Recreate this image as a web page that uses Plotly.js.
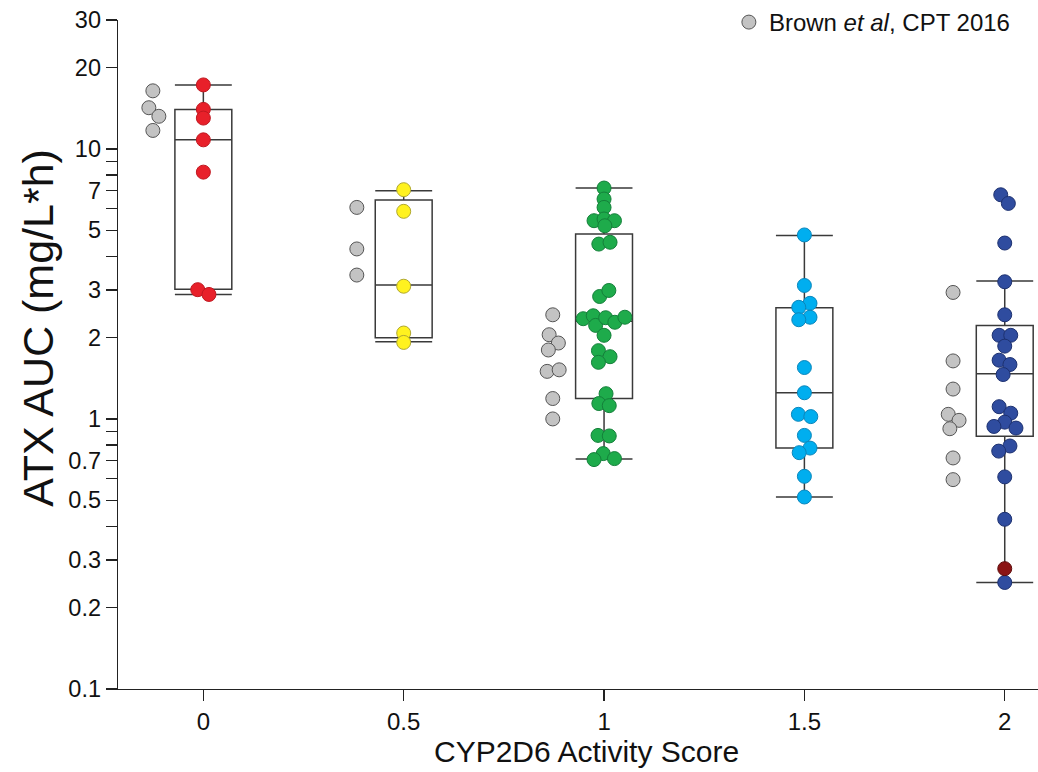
<!DOCTYPE html>
<html>
<head>
<meta charset="utf-8">
<script src="https://cdn.plot.ly/plotly-3.0.1.min.js"></script>
<style>html,body{margin:0;padding:0;background:#fff;}#chart{width:1038px;height:772px;}</style>
</head>
<body>
<div id="chart"></div>
<script>
// ---- Data ----
const scores = [0, 0.5, 1, 1.5, 2];
const scoreLabels = ['0', '0.5', '1', '1.5', '2'];

// Box summaries (per activity score)
const boxQ1 = [3.02, 2.0, 1.19, 0.78, 0.862];
const boxMedian = [10.8, 3.13, 2.30, 1.25, 1.47];
const boxQ3 = [14.0, 6.46, 4.84, 2.58, 2.22];
const boxLow = [2.89, 1.93, 0.71, 0.514, 0.248];
const boxHigh = [17.25, 7.0, 7.16, 4.78, 3.24];

// Score 0 (red)
const as0X = [0, 0, 0, 0, 0, -0.014, 0.014];
const as0Y = [17.25, 14.0, 13.0, 10.8, 8.2, 3.01, 2.89];

// Score 0.5 (yellow)
const as05X = [0.5, 0.5, 0.5, 0.5, 0.5];
const as05Y = [7.06, 5.87, 3.10, 2.08, 1.92];

// Score 1 (green)
const as1X = [1.0, 1.0, 1.0, 0.975, 1.0, 1.026, 1.002, 0.987, 1.015, 0.989, 1.012, 0.948, 0.973, 0.979, 1.004,
              1.027, 1.052, 1.0, 0.986, 1.015, 0.986, 1.005, 0.987, 1.013, 0.985, 1.013, 0.998, 0.975, 1.026];
const as1Y = [7.16, 6.52, 6.07, 5.42, 5.50, 5.42, 5.19, 4.44, 4.51, 2.84, 2.99, 2.35, 2.41, 2.22, 2.37,
              2.28, 2.38, 2.04, 1.79, 1.70, 1.62, 1.24, 1.14, 1.12, 0.869, 0.865, 0.744, 0.707, 0.713];

// Score 1.5 (light blue)
const as15X = [1.5, 1.5, 1.514, 1.486, 1.514, 1.486, 1.5, 1.5, 1.485, 1.516, 1.5, 1.514, 1.487, 1.5, 1.5];
const as15Y = [4.80, 3.12, 2.68, 2.59, 2.38, 2.33, 1.55, 1.25, 1.04, 1.02, 0.869, 0.780, 0.750, 0.613, 0.514];

// Score 2 (dark blue)
const as2X = [1.990, 2.009, 2.0, 2.0, 2.0, 1.986, 2.015, 2.0, 1.986, 2.013, 1.996, 1.986, 2.015, 2.0, 1.973,
              2.028, 2.013, 1.985, 2.0, 2.0, 2.0];
const as2Y = [6.76, 6.28, 4.48, 3.22, 2.43, 2.04, 2.04, 1.86, 1.65, 1.59, 1.46, 1.11, 1.05, 0.973, 0.938,
              0.925, 0.794, 0.760, 0.610, 0.425, 0.248];
// Score 2 highlighted subject (dark red)
const as2HiX = [2.0];
const as2HiY = [0.279];

// Brown et al, CPT 2016 (gray)
const brownX = [-0.126, -0.136, -0.111, -0.126,
                0.383, 0.383, 0.383,
                0.872, 0.863, 0.886, 0.861, 0.858, 0.888, 0.872, 0.872,
                1.871, 1.871, 1.871, 1.859, 1.886, 1.863, 1.871, 1.871];
const brownY = [16.4, 14.2, 13.2, 11.7,
                6.07, 4.26, 3.41,
                2.43, 2.05, 1.91, 1.80, 1.50, 1.52, 1.19, 1.00,
                2.94, 1.64, 1.29, 1.04, 0.988, 0.920, 0.717, 0.596];

// Y axis ticks
const yTickVals = [0.1, 0.2, 0.3, 0.4, 0.5, 0.6, 0.7, 0.8, 0.9, 1, 2, 3, 4, 5, 6, 7, 8, 9, 10, 20, 30];
const yTickText = ['0.1', '0.2', '0.3', '', '0.5', '', '0.7', '', '', '1', '2', '3', '', '5', '', '7', '', '', '10', '20', '30'];

// ---- Chart ----
const FONT = 'Arial, "Liberation Sans", Helvetica, sans-serif';

function pts(x, y, fill, edge, name, showlegend) {
  return {
    type: 'scatter', mode: 'markers', x: x, y: y, name: name || '',
    showlegend: !!showlegend, hoverinfo: 'x+y',
    marker: {size: 14, color: fill, line: {color: edge, width: 1}}
  };
}

const traces = [
  {
    type: 'box', x: scores, q1: boxQ1, median: boxMedian, q3: boxQ3,
    lowerfence: boxLow, upperfence: boxHigh,
    width: 0.142, whiskerwidth: 1, boxpoints: false,
    line: {color: '#3a3a3a', width: 1.5}, fillcolor: 'rgba(255,255,255,0)',
    showlegend: false, hoverinfo: 'skip'
  },
  pts(brownX, brownY, '#c3c3c3', '#555555', 'Brown <i>et al</i>, CPT 2016', true),
  pts(as0X, as0Y, '#e8202a', '#c01820'),
  pts(as05X, as05Y, '#fff21f', '#b0a830'),
  pts(as1X, as1Y, '#1eab4b', '#14803a'),
  pts(as15X, as15Y, '#00aeef', '#0a86bb'),
  pts(as2X, as2Y, '#2f4c9f', '#1d3170'),
  pts(as2HiX, as2HiY, '#8b1414', '#5e0c0c')
];

const layout = {
  width: 1038, height: 772,
  margin: {l: 118, r: 0, t: 19, b: 83, pad: 0},
  paper_bgcolor: '#ffffff', plot_bgcolor: '#ffffff',
  font: {family: FONT, color: '#000'},
  showlegend: true,
  legend: {
    x: 0.664, xanchor: 'left', y: 0.997, yanchor: 'middle',
    font: {size: 24, family: FONT, color: '#111'},
    bgcolor: 'rgba(0,0,0,0)', borderwidth: 0
  },
  xaxis: {
    range: [-0.213, 2.083],
    tickmode: 'array', tickvals: scores, ticktext: scoreLabels,
    ticks: 'outside', ticklen: 11, tickwidth: 1.3, tickcolor: '#222',
    showline: true, linecolor: '#222', linewidth: 1.3,
    showgrid: false, zeroline: false,
    tickfont: {size: 24, family: FONT, color: '#111'}
  },
  yaxis: {
    type: 'log', range: [-1, Math.log10(30)],
    tickmode: 'array', tickvals: yTickVals, ticktext: yTickText,
    ticks: 'outside', ticklen: 11, tickwidth: 1.3, tickcolor: '#222',
    showline: true, linecolor: '#222', linewidth: 1.3,
    showgrid: false, zeroline: false,
    tickfont: {size: 23.5, family: FONT, color: '#111'}
  },
  annotations: [
    {text: 'ATX AUC (mg/L*h)', textangle: -90, xref: 'paper', yref: 'paper',
     x: -0.087, y: 0.54, xanchor: 'center', yanchor: 'middle', showarrow: false,
     font: {size: 43, family: FONT, color: '#111'}},
    {text: 'CYP2D6 Activity Score', xref: 'paper', yref: 'paper',
     x: 0.509, y: -0.093, xanchor: 'center', yanchor: 'middle', showarrow: false,
     font: {size: 30, family: FONT, color: '#111'}}
  ]
};

Plotly.newPlot('chart', traces, layout, {displayModeBar: false, staticPlot: true});
</script>
</body>
</html>
